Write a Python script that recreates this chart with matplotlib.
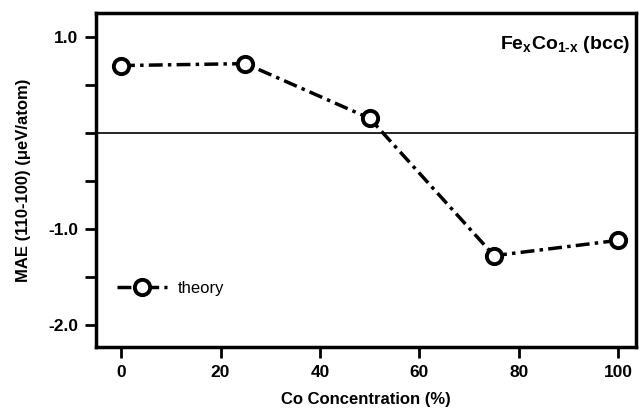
import matplotlib.pyplot as plt

plt.rcParams['font.family'] = ['Liberation Sans', 'DejaVu Sans']
plt.rcParams['mathtext.fontset'] = 'custom'
plt.rcParams['mathtext.rm'] = 'Liberation Sans:bold'
plt.rcParams['mathtext.it'] = 'Liberation Sans:bold'
plt.rcParams['mathtext.bf'] = 'Liberation Sans:bold'

# Co concentration (%) and MAE values (ueV/atom)
co_conc = [0, 25, 50, 75, 100]
mae_theory = [0.70, 0.72, 0.15, -1.28, -1.12]

ytick_vals = [-2.0, -1.5, -1.0, -0.5, 0.0, 0.5, 1.0]
ytick_labels = ['-2.0', '', '-1.0', '', '', '', '1.0']
xtick_vals = [0, 20, 40, 60, 80, 100]

fig = plt.figure(figsize=(6.41, 4.11), dpi=100)
ax = fig.add_axes([0.150, 0.156, 0.842, 0.813])

ax.axhline(0, color='black', lw=1.2, zorder=1)
ax.plot(co_conc, mae_theory, color='black', lw=2.5,
        linestyle=(0, (4, 1.5, 1, 1.5)),
        marker='o', markersize=11, markerfacecolor='white',
        markeredgecolor='black', markeredgewidth=2.8,
        label='theory', zorder=3)

ax.set_xlim(-5, 103.5)
ax.set_ylim(-2.23, 1.25)
ax.set_xticks(xtick_vals)
ax.set_xticklabels([str(v) for v in xtick_vals], fontweight='bold')
ax.set_yticks(ytick_vals)
ax.set_yticklabels(ytick_labels, fontweight='bold')
ax.tick_params(direction='out', length=8, width=2, labelsize=12.5, pad=5)

for s in ax.spines.values():
    s.set_linewidth(2.5)

ax.set_xlabel('Co Concentration (%)', fontsize=12, fontweight='bold', labelpad=9)
ax.set_ylabel('MAE (110-100) (\u03bceV/atom)', fontsize=12, fontweight='bold', labelpad=12)

ax.text(0.989, 0.904, 'Fe$_{x}$Co$_{1\u2010x}$ (bcc)', transform=ax.transAxes,
        ha='right', va='center', fontsize=14, fontweight='bold')

ax.legend(loc='center left', bbox_to_anchor=(0.039, 0.174), frameon=False,
          fontsize=12, handlelength=3.0, handletextpad=0.65,
          borderpad=0, borderaxespad=0)

fig.savefig('out.png', dpi=100)
